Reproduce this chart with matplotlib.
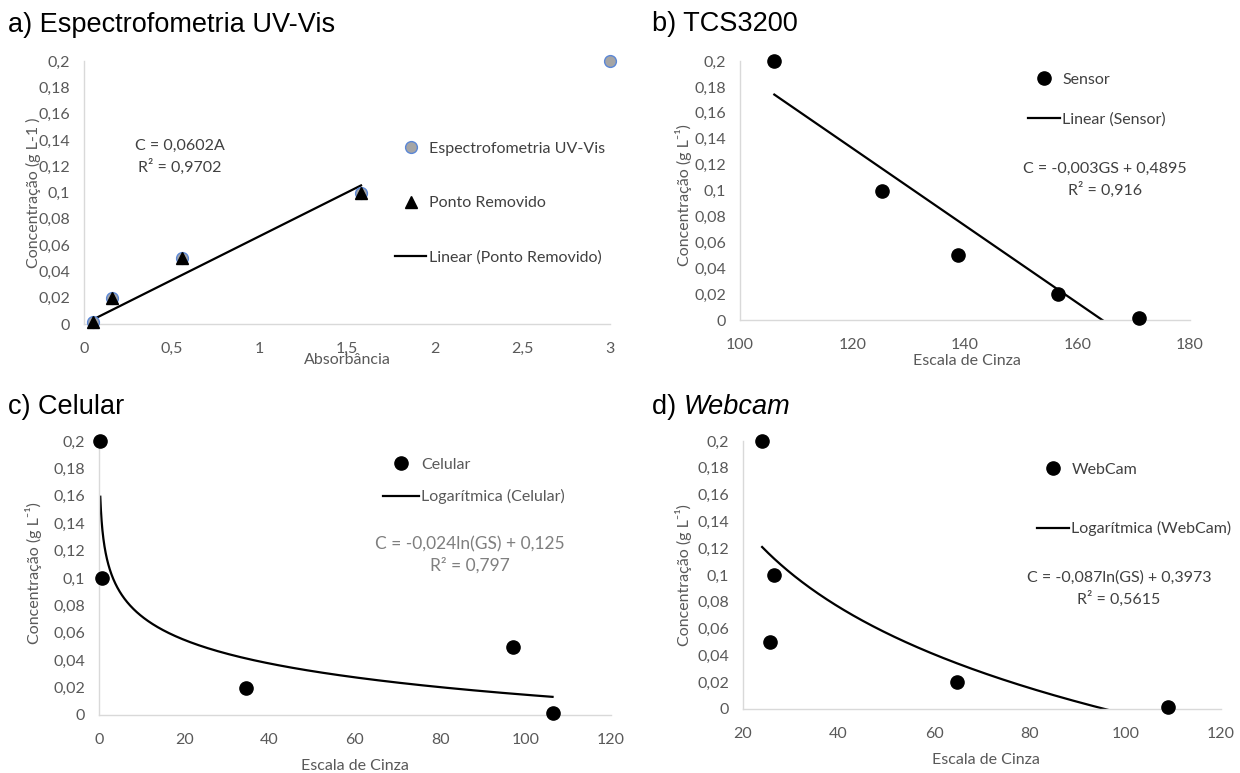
import numpy as np
import matplotlib
matplotlib.use('Agg')
import matplotlib.pyplot as plt
from matplotlib.ticker import MultipleLocator, FuncFormatter
from matplotlib.lines import Line2D

plt.rcParams['font.family'] = ['Lato', 'DejaVu Sans']

# ---------------- data ----------------
abs_uv = [0.05, 0.16, 0.56, 1.58, 3.0]
conc_uv = [0.0015, 0.02, 0.05, 0.1, 0.2]
abs_kept = [0.05, 0.16, 0.56, 1.58]
conc_kept = [0.0015, 0.02, 0.05, 0.1]

gs_sensor = [106.1, 125.3, 138.7, 156.5, 171.0]
conc_sensor = [0.2, 0.1, 0.05, 0.02, 0.0015]

gs_cel = [0.3, 0.6, 34.4, 97.0, 106.3]
conc_cel = [0.2, 0.1, 0.02, 0.05, 0.0015]

gs_web = [24.0, 26.4, 25.6, 64.75, 108.9]
conc_web = [0.2, 0.1, 0.05, 0.02, 0.0015]

titles = ["a) Espectrofometria UV-Vis", "b) TCS3200", "c) Celular", "d) "]
eq_a = "C = 0,0602A\nR² = 0,9702"
eq_b = "C = -0,003GS + 0,4895\nR² = 0,916"
eq_c = "C = -0,024ln(GS) + 0,125\nR² = 0,797"
eq_d = "C = -0,087ln(GS) + 0,3973\nR² = 0,5615"

# ---------------- layout helpers ----------------
W, H = 1240, 773
fig = plt.figure(figsize=(W / 100, H / 100), dpi=100)


def fx(px):
    return px / W


def fy(py):
    return 1 - py / H


def make_ax(l, r, t, b):
    return fig.add_axes([fx(l), fy(b), (r - l) / W, (b - t) / H])


TICK = '#595959'
SPINE = '#d9d9d9'
DARK = '#404040'
FS = 11.5
fmt = FuncFormatter(lambda v, p: ('%g' % round(v, 4)).replace('.', ','))


def style(ax, xlim, xstep):
    ax.set_xlim(*xlim)
    ax.set_ylim(0, 0.2)
    ax.xaxis.set_major_locator(MultipleLocator(xstep))
    ax.yaxis.set_major_locator(MultipleLocator(0.02))
    ax.xaxis.set_major_formatter(fmt)
    ax.yaxis.set_major_formatter(fmt)
    for s in ('top', 'right'):
        ax.spines[s].set_visible(False)
    for s in ('left', 'bottom'):
        ax.spines[s].set_color(SPINE)
        ax.spines[s].set_linewidth(1.0)
    ax.tick_params(length=0, labelsize=FS, labelcolor=TICK)
    ax.tick_params(axis='x', pad=13)
    ax.tick_params(axis='y', pad=10)


def labels(ax, xl, xpos, yl, ypos, size=FS):
    ax.set_xlabel(xl, fontsize=size, color=TICK)
    ax.xaxis.set_label_coords(fx(xpos[0]), fy(xpos[1]), transform=fig.transFigure)
    ax.xaxis.label.set_va('center')
    ax.set_ylabel(yl, fontsize=size, color=TICK)
    ax.yaxis.set_label_coords(fx(ypos[0]), fy(ypos[1]), transform=fig.transFigure)
    ax.yaxis.label.set_va('center')


def legend(ax, handles, lbls, x, ytop, spacing, hl, color=DARK):
    leg = ax.legend(handles, lbls, loc='upper left', bbox_to_anchor=(fx(x), fy(ytop)),
                    bbox_transform=fig.transFigure, frameon=False, borderpad=0,
                    borderaxespad=0, labelspacing=spacing, handlelength=hl,
                    handletextpad=0.15, fontsize=FS, labelcolor=color)
    return leg


def title(x, y, s):
    fig.text(fx(x), fy(y), s, fontsize=19.5, family='Liberation Sans', va='center', ha='left')


# ---------------- panel a ----------------
ax = make_ax(84, 610, 61, 324)
style(ax, (0, 3), 0.5)
ka = np.sum(np.array(abs_kept) * np.array(conc_kept)) / np.sum(np.array(abs_kept) ** 2)
xa = np.array([min(abs_kept), max(abs_kept)])
ax.plot(xa, ka * xa, color='black', lw=1.6, zorder=2)
ax.plot(abs_uv, conc_uv, 'o', ms=8.5, mfc='#a5a5a5', mec='#5b87d6', mew=1.0,
        clip_on=False, zorder=3, ls='none')
ax.plot(abs_kept, conc_kept, '^', ms=8, color='black', clip_on=False, zorder=4, ls='none')
fig.text(fx(180), fy(157), eq_a, fontsize=FS, color=DARK, ha='center', va='center',
         linespacing=1.45)
h = [Line2D([], [], marker='o', ls='none', ms=8.5, mfc='#a5a5a5', mec='#5b87d6', mew=1.0),
     Line2D([], [], marker='^', ls='none', ms=8, color='black'),
     Line2D([], [], color='black', lw=1.6)]
legend(ax, h, ["Espectrofometria UV-Vis", "Ponto Removido", "Linear (Ponto Removido)"],
       395, 141.7, 2.52, 1.95)
labels(ax, "Absorbância", (347, 360), "Concentração (g L-1 )", (33, 193))
title(8, 25, titles[0])

# ---------------- panel b ----------------
ax = make_ax(740, 1190, 61, 320)
style(ax, (100, 180), 20)
pb = np.polyfit(gs_sensor, conc_sensor, 1)
xb = np.array([min(gs_sensor), max(gs_sensor)])
ax.plot(xb, np.polyval(pb, xb), color='black', lw=1.6, zorder=2)
ax.plot(gs_sensor, conc_sensor, 'o', ms=9.5, color='black', clip_on=False, zorder=3, ls='none')
fig.text(fx(1105), fy(180), eq_b, fontsize=FS, color=DARK, ha='center', va='center',
         linespacing=1.4)
h = [Line2D([], [], marker='o', ls='none', ms=9.5, color='black'),
     Line2D([], [], color='black', lw=1.6)]
legend(ax, h, ["Sensor", "Linear (Sensor)"], 1028, 72.7, 1.58, 2.0)
labels(ax, "Escala de Cinza", (967, 361), "Concentração (g L⁻¹)", (683, 195))
title(652, 24, titles[1])

# ---------------- panel c ----------------
ax = make_ax(99, 611, 441, 715)
style(ax, (0, 120), 20)
pc = np.polyfit(np.log(gs_cel), conc_cel, 1)
xc = np.geomspace(min(gs_cel), max(gs_cel), 400)
ax.plot(xc, np.polyval(pc, np.log(xc)), color='black', lw=1.6, zorder=2)
ax.plot(gs_cel, conc_cel, 'o', ms=9.5, color='black', clip_on=False, zorder=3, ls='none')
fig.text(fx(470), fy(555), eq_c, fontsize=12.5, color='#7f7f7f', ha='center', va='center',
         linespacing=1.4)
h = [Line2D([], [], marker='o', ls='none', ms=9.5, color='black'),
     Line2D([], [], color='black', lw=1.6)]
legend(ax, h, ["Celular", "Logarítmica (Celular)"], 383, 457.7, 1.08, 2.25, color='#595959')
labels(ax, "Escala de Cinza", (355, 766), "Concentração (g L⁻¹)", (33, 573))
title(8, 407, titles[2])

# ---------------- panel d ----------------
ax = make_ax(743, 1221, 441, 709)
style(ax, (20, 120), 20)
pd_ = np.polyfit(np.log(gs_web), conc_web, 1)
xd = np.geomspace(min(gs_web), max(gs_web), 400)
ax.plot(xd, np.polyval(pd_, np.log(xd)), color='black', lw=1.6, zorder=2)
ax.plot(gs_web, conc_web, 'o', ms=9.5, color='black', clip_on=False, zorder=3, ls='none')
fig.text(fx(1119), fy(589), eq_d, fontsize=11.5, color=DARK, ha='center', va='center',
         linespacing=1.45)
h = [Line2D([], [], marker='o', ls='none', ms=9.5, color='black'),
     Line2D([], [], color='black', lw=1.6)]
legend(ax, h, ["WebCam", "Logarítmica (WebCam)"], 1037, 462.7, 2.77, 2.0)
labels(ax, "Escala de Cinza", (986, 760), "Concentração (g L⁻¹)", (683, 575))

t1 = fig.text(fx(652), fy(407), titles[3], fontsize=19.5, family='Liberation Sans',
              va='center', ha='left')
renderer = fig.canvas.get_renderer()
bb = t1.get_window_extent(renderer)
fig.text(bb.x1 / W, fy(407), "Webcam", fontsize=19.5, family='Liberation Sans',
         style='italic', va='center', ha='left')

fig.savefig('out.png', dpi=100)
